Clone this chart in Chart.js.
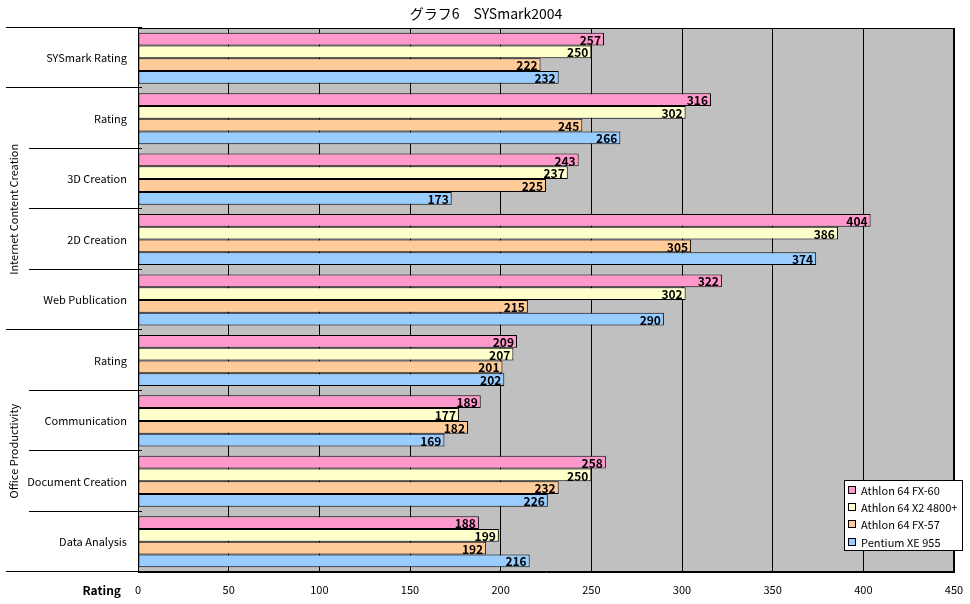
<!DOCTYPE html>
<html>
<head>
<meta charset="utf-8">
<script src="https://cdn.jsdelivr.net/npm/chart.js@4.4.1/dist/chart.umd.min.js"></script>
<style>
html,body{margin:0;padding:0;background:#fff;}
#wrap{width:970px;height:604px;position:relative;}
</style>
</head>
<body>
<div id="wrap"><canvas id="c" width="970" height="604"></canvas></div>
<script>
const titleText = 'グラフ6\u3000SYSmark2004';
const categories = ['SYSmark Rating','Rating','3D Creation','2D Creation','Web Publication','Rating','Communication','Document Creation','Data Analysis'];
const groups = [
  {label:'', from:0, to:0},
  {label:'Internet Content Creation', from:1, to:4},
  {label:'Office Productivity', from:5, to:8}
];
const seriesNames = ['Athlon 64 FX-60','Athlon 64 X2 4800+','Athlon 64 FX-57','Pentium XE 955'];
const fx60   = [257,316,243,404,322,209,189,258,188];
const x24800 = [250,302,237,386,302,207,177,250,199];
const fx57   = [222,245,225,305,215,201,182,232,192];
const xe955  = [232,266,173,374,290,202,169,226,216];
const seriesColors = ['#FF99CC','#FFFFCC','#FFCC99','#99CCFF'];
const axisTitle = 'Rating';
const xMin = 0, xMax = 450, xStep = 50;

const FONT = '"Noto Sans CJK JP", "Noto Sans", sans-serif';
const seriesData = [fx60, x24800, fx57, xe955];

const bgPlugin = {
  id:'bg',
  beforeDraw(chart){
    const {ctx, chartArea:a} = chart;
    ctx.save();
    ctx.fillStyle = '#C0C0C0';
    ctx.fillRect(a.left, a.top, a.right-a.left, a.bottom-a.top);
    ctx.restore();
  }
};

const decoPlugin = {
  id:'deco',
  afterDatasetsDraw(chart){
    const {ctx, chartArea:a} = chart;
    const y = chart.scales.y;
    ctx.save();
    ctx.strokeStyle = '#000';
    ctx.lineWidth = 1;
    ctx.strokeRect(Math.round(a.left)+0.5, Math.round(a.top)+0.5, Math.round(a.right-a.left)-1, Math.round(a.bottom-a.top)-1);
    const n = categories.length;
    const groupEdges = new Set();
    groups.forEach(g=>{groupEdges.add(g.from); groupEdges.add(g.to+1);});
    const half = (y.getPixelForValue(1)-y.getPixelForValue(0))/2;
    for(let i=0;i<=n;i++){
      let yy = i<n ? y.getPixelForValue(i) - half : a.bottom;
      yy = Math.round(yy) - 0.5;
      const x0 = groupEdges.has(i) ? 6 : 29;
      ctx.beginPath();
      ctx.moveTo(x0, yy);
      ctx.lineTo(a.left+4, yy);
      ctx.stroke();
    }
    ctx.fillStyle = '#000';
    ctx.font = '11px ' + FONT;
    ctx.textAlign = 'center';
    ctx.textBaseline = 'middle';
    groups.forEach(g=>{
      if(!g.label) return;
      const top = y.getPixelForValue(g.from) - half;
      const bot = y.getPixelForValue(g.to) + half;
      ctx.save();
      ctx.translate(14, (top+bot)/2);
      ctx.rotate(-Math.PI/2);
      ctx.fillText(g.label, 0, 0);
      ctx.restore();
    });
    ctx.font = 'bold 12px ' + FONT;
    ctx.textAlign = 'right';
    ctx.textBaseline = 'middle';
    chart.data.datasets.forEach((ds, di)=>{
      const meta = chart.getDatasetMeta(di);
      meta.data.forEach((el, i)=>{
        ctx.fillText(String(ds.data[i]), el.x - 3, el.y + 1);
      });
    });
    ctx.textAlign = 'right';
    ctx.fillText(axisTitle, 121, 590);
    ctx.font = '14px ' + FONT;
    ctx.textAlign = 'center';
    ctx.fillText(titleText, 486, 14);
    const lx = 844, ly = 480, lw = 119, lh = 71;
    ctx.fillStyle = '#fff';
    ctx.fillRect(lx, ly, lw, lh);
    ctx.strokeStyle = '#000';
    ctx.strokeRect(lx+0.5, ly+0.5, lw-1, lh-1);
    ctx.font = '11px ' + FONT;
    ctx.textAlign = 'left';
    chart.data.datasets.forEach((ds, di)=>{
      const cy = ly + 9.5 + di*17.4;
      ctx.fillStyle = ds.backgroundColor;
      ctx.fillRect(lx+4, Math.round(cy-4), 8, 8);
      ctx.strokeStyle = '#000';
      ctx.strokeRect(lx+4.5, Math.round(cy-4)+0.5, 7, 7);
      ctx.fillStyle = '#000';
      ctx.fillText(ds.label, lx+17, cy+1);
    });
    ctx.restore();
  }
};

new Chart(document.getElementById('c'), {
  type:'bar',
  data:{
    labels: categories,
    datasets: seriesNames.map((name, i)=>({
      label: name,
      data: seriesData[i],
      backgroundColor: seriesColors[i],
      borderColor:'#000',
      borderWidth:1,
      borderSkipped:false,
      categoryPercentage:0.845,
      barPercentage:1.0
    }))
  },
  options:{
    indexAxis:'y',
    responsive:false,
    animation:false,
    devicePixelRatio:1,
    layout:{padding:{top:28,right:16,left:0,bottom:0}},
    plugins:{legend:{display:false}, title:{display:false}, tooltip:{enabled:false}},
    scales:{
      x:{
        min:xMin, max:xMax,
        ticks:{stepSize:xStep, color:'#000', font:{family:FONT, size:11}, padding:0, maxRotation:0},
        grid:{color:'#000', lineWidth:1, drawTicks:true, tickLength:11, tickColor:'rgba(0,0,0,0)'},
        border:{display:true, color:'#000'},
        afterFit(s){ s.height = 32; }
      },
      y:{
        ticks:{color:'#000', font:{family:FONT, size:11}, padding:11, autoSkip:false},
        grid:{display:false, drawTicks:false},
        border:{display:true, color:'#000'},
        afterFit(s){ s.width = 138; }
      }
    }
  },
  plugins:[bgPlugin, decoPlugin]
});
</script>
</body>
</html>
